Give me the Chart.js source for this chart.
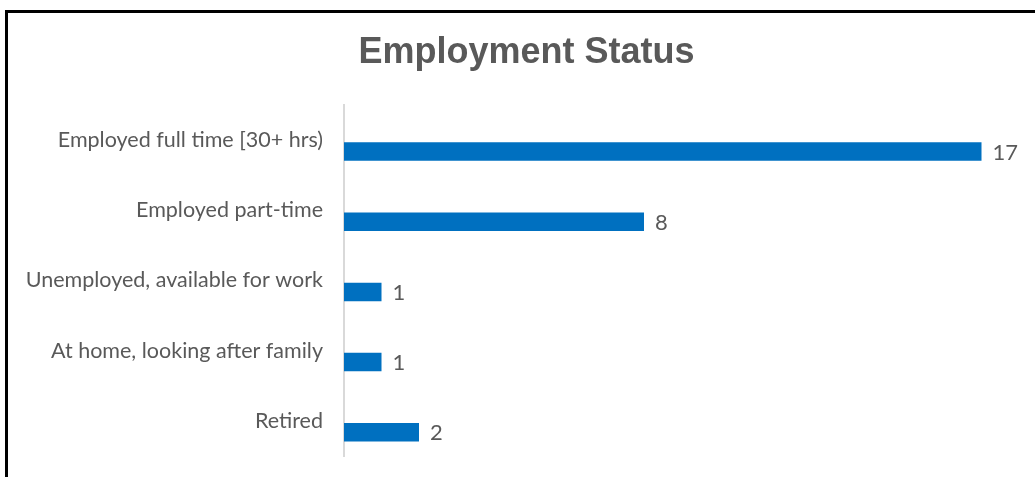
<!DOCTYPE html>
<html>
<head>
<meta charset="utf-8">
<script src="https://cdn.jsdelivr.net/npm/chart.js@4/dist/chart.umd.min.js"></script>
<style>
    html, body { margin: 0; padding: 0; background: #fff; overflow: hidden; }
    .frame { position: absolute; left: 5px; top: 10px; width: 1100px; height: 600px; border: 3px solid #000; box-sizing: border-box; }
    .wrap { position: absolute; left: 0; top: 0; width: 1035px; height: 477px; }
</style>
</head>
<body>
<div class="frame"></div>
<div class="wrap"><canvas id="chart" width="1035" height="477"></canvas></div>
<script>
const categories = [
    'Employed full time [30+ hrs)',
    'Employed part-time',
    'Unemployed, available for work',
    'At home, looking after family',
    'Retired'
];
const counts = [17, 8, 1, 1, 2];
const spacer = [null, null, null, null, null]; // empty series, pushes bars below the label like the original

const textColor = '#595959';
const barColor = '#0070C0';

// value labels at the end of each bar
const valueLabels = {
    id: 'valueLabels',
    afterLayout(chart) {
        // title in the original sits a bit right of the canvas centre
        const t = chart.titleBlock;
        if (t) { t.left += 17; t.right += 17; }
    },
    afterDatasetsDraw(chart) {
        const ctx = chart.ctx;
        const meta = chart.getDatasetMeta(1);
        ctx.save();
        ctx.font = '22px Lato';
        ctx.fillStyle = textColor;
        ctx.textAlign = 'left';
        ctx.textBaseline = 'middle';
        meta.data.forEach((bar, i) => {
            ctx.fillText(String(counts[i]), bar.x + 11, bar.y + 1);
        });
        ctx.restore();
    }
};

new Chart(document.getElementById('chart'), {
    type: 'bar',
    data: {
        labels: categories,
        datasets: [
            { label: '', data: spacer, backgroundColor: 'transparent' },
            { label: 'Count', data: counts, backgroundColor: barColor, borderWidth: 0 }
        ]
    },
    options: {
        indexAxis: 'y',
        responsive: false,
        animation: false,
        categoryPercentage: 0.65,
        barPercentage: 0.81,
        layout: { padding: { left: 0, right: 16, top: 0, bottom: 21 } },
        plugins: {
            legend: { display: false },
            tooltip: { enabled: false },
            title: {
                display: true,
                text: 'Employment Status',
                color: textColor,
                font: { family: 'Liberation Sans', size: 36, weight: 'bold', lineHeight: 1.2 },
                padding: { top: 31.5, bottom: 30.3 }
            }
        },
        scales: {
            x: { display: false, min: 0, max: 18 },
            y: {
                grid: { display: false },
                border: { display: true, color: '#d9d9d9', width: 2 },
                ticks: {
                    color: textColor,
                    padding: 13,
                    font: { family: 'Lato', size: 21.5 }
                },
                afterFit(scale) {
                    scale.width = 344;
                    scale.paddingTop = 0;
                    scale.paddingBottom = 0;
                }
            }
        }
    },
    plugins: [valueLabels]
});
</script>
</body>
</html>
